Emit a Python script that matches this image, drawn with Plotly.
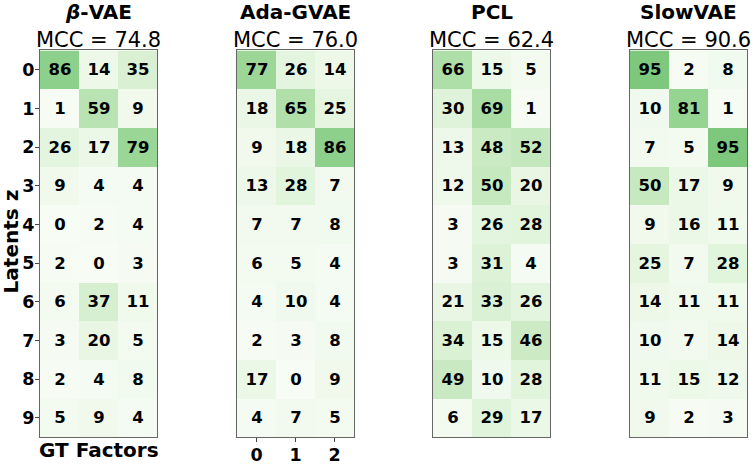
import plotly.graph_objects as go

# Correlation matrices (latents x GT factors), values in %
methods = ["<b><i>β</i>-VAE</b>", "<b>Ada-GVAE</b>", "<b>PCL</b>", "<b>SlowVAE</b>"]
mcc = ["74.8", "76.0", "62.4", "90.6"]
latents = list(range(10))
factors = [0, 1, 2]

beta_vae = [[86, 14, 35], [1, 59, 9], [26, 17, 79], [9, 4, 4], [0, 2, 4],
            [2, 0, 3], [6, 37, 11], [3, 20, 5], [2, 4, 8], [5, 9, 4]]
ada_gvae = [[77, 26, 14], [18, 65, 25], [9, 18, 86], [13, 28, 7], [7, 7, 8],
            [6, 5, 4], [4, 10, 4], [2, 3, 8], [17, 0, 9], [4, 7, 5]]
pcl = [[66, 15, 5], [30, 69, 1], [13, 48, 52], [12, 50, 20], [3, 26, 28],
       [3, 31, 4], [21, 33, 26], [34, 15, 46], [49, 10, 28], [6, 29, 17]]
slow_vae = [[95, 2, 8], [10, 81, 1], [7, 5, 95], [50, 17, 9], [9, 16, 11],
            [25, 7, 28], [14, 11, 11], [10, 7, 14], [11, 15, 12], [9, 2, 3]]
matrices = [beta_vae, ada_gvae, pcl, slow_vae]

# matplotlib "Greens"
greens = [[0.0, "#f7fcf5"], [0.125, "#e5f5e0"], [0.25, "#c7e9c0"], [0.375, "#a1d99b"],
          [0.5, "#74c476"], [0.625, "#41ab5d"], [0.75, "#238b45"], [0.875, "#006d2c"],
          [1.0, "#00441b"]]

W, H = 753, 465
lefts = [40, 237, 433, 630]
pw = 117
top, bottom = 51, 442
font = "DejaVu Sans"
tickfont = dict(family=font, size=17.5, color="black", weight="bold")

fig = go.Figure()
for i, m in enumerate(matrices):
    n = "" if i == 0 else str(i + 1)
    fig.add_trace(go.Heatmap(
        z=m, x=factors, y=latents, colorscale=greens, zmin=0, zmax=200,
        showscale=False, texttemplate="<b>%{z}</b>",
        textfont=dict(family=font, size=16.5, color="black"),
        xaxis="x" + n, yaxis="y" + n,
    ))
    x0, x1 = lefts[i] / W, (lefts[i] + pw) / W
    fig.layout["xaxis" + n] = dict(
        domain=[x0, x1], range=[-0.5, 2.5], anchor="y" + n,
        showline=True, mirror=True, linecolor="#666", linewidth=1,
        showgrid=False, zeroline=False,
        tickvals=factors, ticks="outside" if i == 1 else "", ticklen=4,
        tickcolor="#444", showticklabels=(i == 1), tickfont=tickfont,
        ticklabelstandoff=-2,
    )
    fig.layout["yaxis" + n] = dict(
        domain=[1 - bottom / H, 1 - top / H], range=[9.5, -0.5], anchor="x" + n,
        showline=True, mirror=True, linecolor="#666", linewidth=1,
        showgrid=False, zeroline=False,
        tickvals=latents, ticks="outside" if i == 0 else "", ticklen=4,
        tickcolor="#444", showticklabels=(i == 0), tickfont=tickfont,
        ticklabelstandoff=-3,
    )
    cx = (lefts[i] + pw / 2) / W
    fig.add_annotation(x=cx, y=1 - 12 / H, xref="paper", yref="paper",
                       xanchor="center", yanchor="middle",
                       text=methods[i], showarrow=False,
                       font=dict(family=font, size=20, color="black"))
    fig.add_annotation(x=cx, y=1 - 40 / H, xref="paper", yref="paper",
                       xanchor="center", yanchor="middle",
                       text="MCC = " + mcc[i], showarrow=False,
                       font=dict(family=font, size=21, color="black"))

fig.add_annotation(x=(lefts[0] + pw / 2) / W, y=1 - 455 / H, xref="paper", yref="paper",
                   xanchor="center", yanchor="middle",
                   text="<b>GT Factors</b>", showarrow=False,
                   font=dict(family=font, size=20, color="black"))
fig.add_annotation(x=11 / W, y=1 - 244 / H, xref="paper", yref="paper",
                   xanchor="center", yanchor="middle",
                   text="<b>Latents z</b>", showarrow=False, textangle=-90,
                   font=dict(family=font, size=20, color="black"))

fig.update_layout(width=W, height=H, margin=dict(l=0, r=0, t=0, b=0),
                  plot_bgcolor="white", paper_bgcolor="white", showlegend=False)

fig.write_html("out.html", config={"displayModeBar": False},
               post_script="document.body.style.margin='0';")
